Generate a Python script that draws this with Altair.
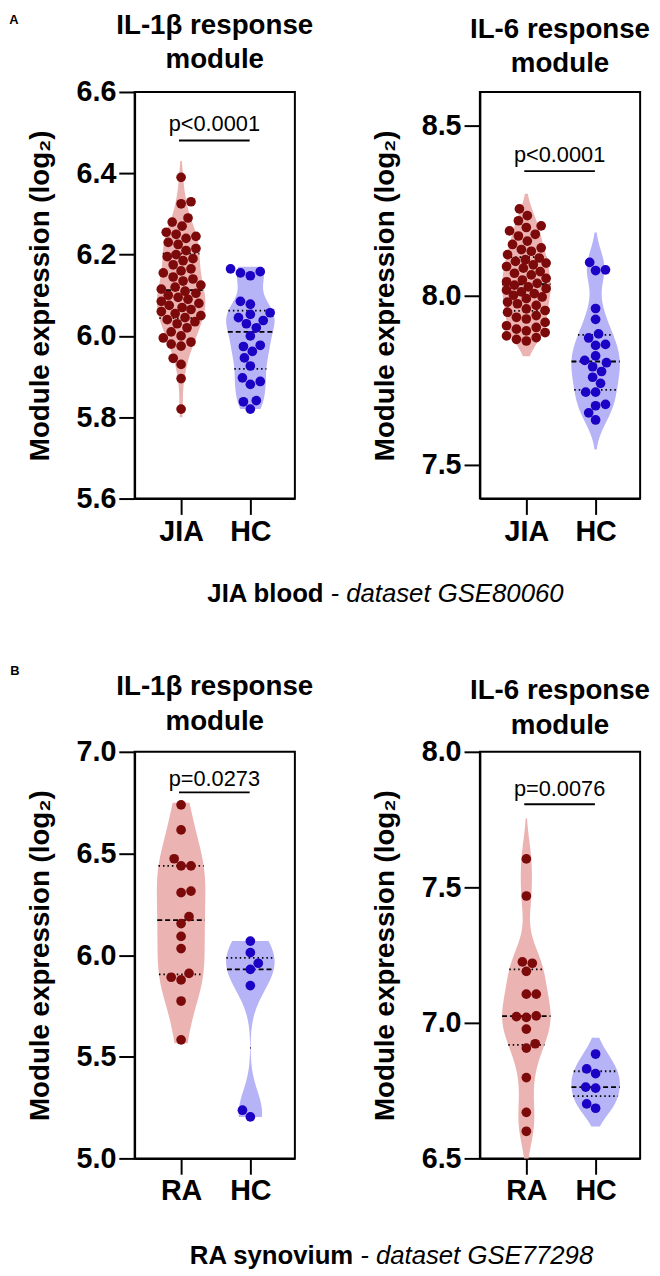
import altair as alt
import numpy as np
import pandas as pd

# ---------------- data ----------------
a1_jia = [6.39, 6.33, 6.325, 6.29, 6.28, 6.27, 6.255, 6.25, 6.245, 6.24, 6.23, 6.225, 6.215, 6.21,
          6.20, 6.195, 6.19, 6.185, 6.175, 6.165, 6.16, 6.155, 6.145, 6.14, 6.135, 6.125, 6.12, 6.115,
          6.11, 6.105, 6.10, 6.095, 6.09, 6.085, 6.08, 6.075, 6.07, 6.065, 6.06, 6.055, 6.05, 6.045,
          6.04, 6.035, 6.03, 6.02, 6.01, 6.00, 5.995, 5.985, 5.98, 5.975, 5.945, 5.93, 5.895, 5.82]
a1_hc = [6.165, 6.158, 6.155, 6.148, 6.085, 6.078, 6.057, 6.053, 6.045, 6.038, 6.03, 6.02,
         6.0, 5.977, 5.974, 5.962, 5.946, 5.926, 5.897, 5.888, 5.881, 5.841, 5.838, 5.82]
a2_jia = [8.255, 8.235, 8.22, 8.205, 8.20, 8.19, 8.18, 8.175, 8.16, 8.15,
          8.14, 8.135, 8.13, 8.12, 8.11, 8.105, 8.10, 8.095, 8.09, 8.085,
          8.08, 8.07, 8.065, 8.06, 8.05, 8.045, 8.04, 8.035, 8.03, 8.025,
          8.02, 8.015, 8.01, 8.005, 8.0, 7.995, 7.99, 7.98, 7.975, 7.97,
          7.96, 7.955, 7.95, 7.94, 7.935, 7.93, 7.92, 7.91, 7.905, 7.90,
          7.895, 7.89, 7.88, 7.875, 7.87, 7.865]
a2_hc = [8.097, 8.075, 8.073, 7.961, 7.929, 7.886, 7.874, 7.855, 7.852, 7.821, 7.808,
         7.801, 7.789, 7.775, 7.758, 7.74, 7.714, 7.714, 7.678, 7.674, 7.653, 7.632]
b1_ra = [6.739, 6.616, 6.474, 6.439, 6.439, 6.315, 6.307, 6.189, 6.155, 6.092, 6.032,
         5.91, 5.891, 5.878, 5.774, 5.583]
b1_hc = [6.069, 6.012, 5.96, 5.93, 5.85, 5.237, 5.204]
b2_ra = [7.605, 7.468, 7.225, 7.22, 7.19, 7.106, 7.106, 7.026, 7.023, 7.02, 6.977,
         6.923, 6.907, 6.798, 6.67, 6.6]
b2_hc = [6.885, 6.83, 6.813, 6.763, 6.759, 6.701, 6.685]

groups_a = ["JIA", "HC"]
groups_b = ["RA", "HC"]
panel_titles = ["IL-1β response\nmodule", "IL-6 response\nmodule"]
p_values = ["p<0.0001", "p<0.0001", "p=0.0273", "p=0.0076"]
ticks_a1 = [5.6, 5.8, 6.0, 6.2, 6.4, 6.6]
ticks_a2 = [7.5, 8.0, 8.5]
ticks_b1 = [5.0, 5.5, 6.0, 6.5, 7.0]
ticks_b2 = [6.5, 7.0, 7.5, 8.0]
caption_a = ["JIA blood", "- dataset GSE80060"]
caption_b = ["RA synovium", "- dataset GSE77298"]
row_labels = ["A", "B"]
y_title = "Module expression (log₂)"

# ---------------- style ----------------
FONT = "Liberation Sans, Arial, Helvetica, sans-serif"
W, H = 162, 411
XD = [0.329, 2.643]
HW = 0.35
STEPS = 160
PX_X = W / (XD[1] - XD[0])
RED_PT, BLUE_PT = "#7d0a0a", "#1c02c4"
RED_V, BLUE_V = "#ebb3b1", "#b7b3f7"


def kde(vals, x, bw):
    v = np.asarray(vals, float)
    x = np.asarray(x, float)
    return np.exp(-0.5 * ((x[:, None] - v[None, :]) / bw) ** 2).sum(1)


def swarm(vals, ppy, dist=10.0, maxoff=20.0, step=1.0):
    vals = np.asarray(vals, float)
    order = np.argsort(vals)
    placed = []
    offs = np.zeros(len(vals))
    cands = [0.0]
    k = 1
    while k * step <= maxoff:
        cands += [-k * step, k * step]
        k += 1
    for n, i in enumerate(order):
        y = vals[i] * ppy
        best, bestd = None, -1.0
        sgn = 1 if n % 2 else -1
        for c in cands:
            c = c * sgn
            md = min([np.hypot(c - px, y - py) for px, py in placed], default=1e9)
            if md >= dist:
                best = c
                break
            if md > bestd:
                bestd, best = md, c
        offs[i] = best
        placed.append((best, y))
    return offs / PX_X


def panel(vals, names, ydom, yticks, exts, bws, title, title_y, pval, sig_line, sig_text, extra=None):
    ppy = H / (ydom[1] - ydom[0])
    ysc = alt.Scale(domain=ydom, nice=False, zero=False)
    xsc = alt.Scale(domain=XD, nice=False, zero=False)
    yax = alt.Axis(values=yticks, format=".1f", title=y_title, grid=False)
    xax = alt.Axis(values=[1, 2], labelExpr=f"datum.value == 1 ? '{names[0]}' : '{names[1]}'",
                   title=None, grid=False)
    layers = []
    fills = [RED_V, BLUE_V]
    pts = [RED_PT, BLUE_PT]
    qrows = []
    for k in (1, 2):
        v = vals[k - 1]
        ext, bw = exts[k - 1], bws[k - 1]
        layers.append(
            alt.Chart(pd.DataFrame({"v": v}))
            .transform_density("v", as_=["v", "density"], extent=ext, bandwidth=bw, steps=STEPS)
            .transform_joinaggregate(maxd="max(density)")
            .transform_calculate(xa=f"{k} - datum.density / datum.maxd * {HW}",
                                 xb=f"{k} + datum.density / datum.maxd * {HW}")
            .mark_area(orient="horizontal", color=fills[k - 1], opacity=1)
            .encode(y=alt.Y("v:Q", scale=ysc, axis=yax),
                    x=alt.X("xa:Q", scale=xsc, axis=xax), x2="xb:Q")
        )
        grid = np.linspace(ext[0], ext[1], STEPS)
        mx = kde(v, grid, bw).max()
        q1, md, q3 = np.percentile(v, [25, 50, 75])
        for q, kind in ((q1, "quartile"), (md, "median"), (q3, "quartile")):
            hw = HW * kde(v, [q], bw)[0] / mx
            qrows.append({"y": q, "xa": k - hw, "xb": k + hw, "kind": kind})
    layers.append(
        alt.Chart(pd.DataFrame(qrows)).mark_rule(color="black", strokeWidth=1.8)
        .encode(y=alt.Y("y:Q", scale=ysc, axis=yax), x=alt.X("xa:Q", scale=xsc, axis=xax), x2="xb:Q",
                strokeDash=alt.StrokeDash("kind:N", scale=alt.Scale(domain=["median", "quartile"],
                                                                    range=[[5, 3], [1.5, 3]]), legend=None))
    )
    for k in (1, 2):
        v = vals[k - 1]
        off = swarm(v, ppy)
        df = pd.DataFrame({"v": v, "xp": k + off})
        layers.append(
            alt.Chart(df).mark_circle(size=96, opacity=1, color=pts[k - 1])
            .encode(x=alt.X("xp:Q", scale=xsc, axis=xax),
                    y=alt.Y("v:Q", scale=ysc, axis=yax))
        )
    pdf = pd.DataFrame({"p": [pval]})
    layers.append(
        alt.Chart(pdf).mark_rule(color="black", strokeWidth=2)
        .encode(x=alt.XDatum(0.97, scale=xsc, axis=xax), x2=alt.X2Datum(1.99), y=alt.value(sig_line))
    )
    layers.append(
        alt.Chart(pdf).mark_text(font=FONT, fontSize=22, baseline="alphabetic", color="black")
        .encode(text="p:N", x=alt.XDatum(1.48, scale=xsc, axis=xax), y=alt.value(sig_text))
    )
    layers.append(
        alt.Chart(pd.DataFrame({"t": [title]})).mark_text(font=FONT, fontSize=28, fontWeight="bold",
                                                         color="black", lineBreak="\n", lineHeight=35,
                                                         baseline="alphabetic", align="center")
        .encode(text="t:N", x=alt.value(W / 2), y=alt.value(title_y))
    )
    if extra:
        layers += extra
    return alt.layer(*layers).properties(width=W, height=H)


def label_layers(letter, lpos, caption, cx, cy):
    out = [
        alt.Chart(pd.DataFrame({"t": [letter]})).mark_text(font=FONT, fontSize=13, fontWeight="bold",
                                                          color="black")
        .encode(text="t:N", x=alt.value(lpos[0]), y=alt.value(lpos[1])),
        alt.Chart(pd.DataFrame({"t": [caption[0]]})).mark_text(font=FONT, fontSize=26, fontWeight="bold",
                                                              align="right", baseline="middle", color="black")
        .encode(text="t:N", x=alt.value(cx), y=alt.value(cy)),
        alt.Chart(pd.DataFrame({"t": [caption[1]]})).mark_text(font=FONT, fontSize=26, fontStyle="italic",
                                                              align="left", baseline="middle", dx=7,
                                                              color="black")
        .encode(text="t:N", x=alt.value(cx), y=alt.value(cy)),
    ]
    return out


A1 = panel([a1_jia, a1_hc], groups_a, [5.6, 6.6], ticks_a1, [[5.80, 6.43], [5.82, 6.17]], [0.035, 0.035],
           panel_titles[0], -59, p_values[0], 49, 39,
           extra=label_layers(row_labels[0], (-122, -73), caption_a, 191, 508))
A2 = panel([a2_jia, a2_hc], groups_a, [7.4, 8.6], ticks_a2, [[7.82, 8.30], [7.545, 8.185]], [0.04, 0.05],
           panel_titles[1], -55, p_values[1], 80, 71)
B1 = panel([b1_ra, b1_hc], groups_b, [5.0, 7.0], ticks_b1, [[5.566, 6.75], [5.204, 6.069]], [0.14, 0.11],
           panel_titles[0], -57, p_values[2], 41, 35,
           extra=label_layers(row_labels[1], (-121, -82), caption_b, 221, 510))
B2 = panel([b2_ra, b2_hc], groups_b, [6.5, 8.0], ticks_b2, [[6.5, 7.755], [6.618, 6.945]], [0.08, 0.05],
           panel_titles[1], -53, p_values[3], 53, 45)

chart = (
    alt.concat(A1, A2, B1, B2, columns=2, spacing={"row": 256, "column": 187}, bounds="flush")
    .properties(padding={"left": 0, "top": -4, "right": 0, "bottom": 0}, background="white")
    .configure_view(stroke="black", strokeWidth=2)
    .configure_axis(domainColor="black", domainWidth=2, tickColor="black", tickWidth=2, tickSize=16,
                    labelFont=FONT, labelFontSize=29, labelFontWeight="bold", labelColor="black",
                    titleFont=FONT, titleFontSize=28, titleFontWeight="bold", titleColor="black",
                    labelPadding=3, titlePadding=22)
)

chart.save("out.html", embed_options={"renderer": "svg", "actions": False})
